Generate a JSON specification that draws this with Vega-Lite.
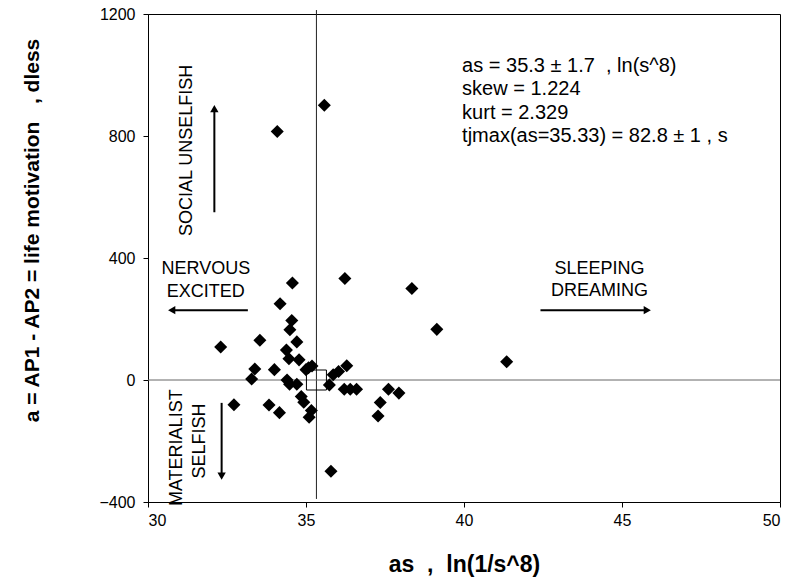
{
  "$schema": "https://vega.github.io/schema/vega-lite/v6.json",
  "width": 632,
  "height": 488,
  "autosize": {"type": "none"},
  "padding": {"left": 148, "top": 14, "right": 18, "bottom": 81},
  "config": {
    "font": "Liberation Sans",
    "view": {"stroke": "#000000", "strokeWidth": 1},
    "axis": {"grid": false, "domainColor": "#000000", "tickColor": "#000000", "labelColor": "#000000", "titleColor": "#000000", "labelFont": "Liberation Sans", "titleFont": "Liberation Sans", "labelFontSize": 16, "titleFontSize": 21, "titleFontWeight": "bold", "tickSize": 5, "domainWidth": 1, "format": "d"}
  },
  "datasets": {
    "pts": [
      {"as": 35.58, "a": 901}, {"as": 34.09, "a": 815}, {"as": 36.23, "a": 333}, {"as": 34.57, "a": 318},
      {"as": 38.35, "a": 300}, {"as": 34.18, "a": 250}, {"as": 39.14, "a": 166}, {"as": 34.55, "a": 195},
      {"as": 34.49, "a": 165}, {"as": 32.30, "a": 108}, {"as": 33.54, "a": 130}, {"as": 34.71, "a": 125},
      {"as": 41.35, "a": 60}, {"as": 34.38, "a": 98}, {"as": 34.46, "a": 70}, {"as": 34.78, "a": 66},
      {"as": 33.38, "a": 36}, {"as": 34.0, "a": 34}, {"as": 35.0, "a": 34}, {"as": 35.19, "a": 46},
      {"as": 35.08, "a": 40}, {"as": 36.29, "a": 47}, {"as": 36.03, "a": 28}, {"as": 35.86, "a": 17},
      {"as": 33.28, "a": 3}, {"as": 34.40, "a": 0}, {"as": 34.48, "a": -14}, {"as": 34.71, "a": -14},
      {"as": 35.74, "a": -16}, {"as": 36.21, "a": -30}, {"as": 36.40, "a": -30}, {"as": 36.60, "a": -30},
      {"as": 37.61, "a": -30}, {"as": 37.94, "a": -43}, {"as": 34.85, "a": -54}, {"as": 34.93, "a": -73},
      {"as": 37.35, "a": -74}, {"as": 32.72, "a": -81}, {"as": 33.83, "a": -82}, {"as": 34.16, "a": -107},
      {"as": 35.17, "a": -100}, {"as": 35.10, "a": -122}, {"as": 37.28, "a": -118}, {"as": 35.79, "a": -299}
    ],
    "refs": [
      {"x": 35.33, "y": 1213, "x2": 35.33, "y2": -390, "c": "v"},
      {"x": 30, "y": 0, "x2": 50, "y2": 0, "c": "h"}
    ],
    "arrows": [
      {"x": 32.10, "y": 550, "x2": 32.10, "y2": 890},
      {"x": 32.33, "y": -75, "x2": 32.33, "y2": -315},
      {"x": 33.16, "y": 229, "x2": 30.75, "y2": 229},
      {"x": 42.42, "y": 229, "x2": 45.80, "y2": 229}
    ],
    "heads": [
      {"x": 32.10, "y": 890, "dir": "up"},
      {"x": 32.33, "y": -315, "dir": "down"},
      {"x": 30.75, "y": 229, "dir": "left"},
      {"x": 45.80, "y": 229, "dir": "right"}
    ],
    "hlabels": [
      {"x": 31.83, "y": 364, "t": "NERVOUS"},
      {"x": 31.83, "y": 287, "t": "EXCITED"},
      {"x": 44.29, "y": 364, "t": "SLEEPING"},
      {"x": 44.29, "y": 293, "t": "DREAMING"}
    ],
    "vlabels": [
      {"x": 31.24, "y": 753, "t": "SOCIAL UNSELFISH"},
      {"x": 30.93, "y": -222, "t": "MATERIALIST"},
      {"x": 31.66, "y": -200, "t": "SELFISH"}
    ],
    "stats": [
      {"x": 39.94, "y": 1031, "t": "as = 35.3 ± 1.7 \u00a0, ln(s^8)"},
      {"x": 39.94, "y": 954, "t": "skew = 1.224"},
      {"x": 39.94, "y": 877, "t": "kurt = 2.329"},
      {"x": 39.94, "y": 800, "t": "tjmax(as=35.33) = 82.8 ± 1 , s"}
    ],
    "center": [{"as": 35.33, "a": 0}]
  },
  "layer": [
    {
      "data": {"name": "refs"},
      "mark": {"type": "rule", "strokeWidth": 1},
      "encoding": {
        "x": {"field": "x", "type": "quantitative", "scale": {"domain": [30, 50]},
              "axis": {"title": "as \u00a0, \u00a0ln(1/s^8)", "values": [30, 35, 40, 45, 50], "labelPadding": 5, "titleY": 51, "titleFontSize": 23}},
        "y": {"field": "y", "type": "quantitative", "scale": {"domain": [-400, 1200]},
              "axis": {"title": "a = AP1 - AP2 = life motivation \u00a0\u00a0, dless", "values": [-400, 0, 400, 800, 1200], "labelPadding": 8, "titleX": -116, "titleY": 216, "titleAngle": 270, "titleBaseline": "middle", "titleAlign": "center"}},
        "x2": {"field": "x2"},
        "y2": {"field": "y2"},
        "color": {"field": "c", "type": "nominal", "legend": null, "scale": {"domain": ["v", "h"], "range": ["#222222", "#666666"]}}
      }
    },
    {
      "data": {"name": "arrows"},
      "mark": {"type": "rule", "color": "#000000", "strokeWidth": 2},
      "encoding": {
        "x": {"field": "x", "type": "quantitative"},
        "y": {"field": "y", "type": "quantitative"},
        "x2": {"field": "x2"},
        "y2": {"field": "y2"}
      }
    },
    {
      "data": {"name": "heads"},
      "mark": {"type": "point", "filled": true, "color": "#000000", "opacity": 1, "size": 70},
      "encoding": {
        "x": {"field": "x", "type": "quantitative"},
        "y": {"field": "y", "type": "quantitative"},
        "shape": {"field": "dir", "type": "nominal", "legend": null,
                  "scale": {"domain": ["up", "down", "left", "right"], "range": ["triangle-up", "triangle-down", "triangle-left", "triangle-right"]}}
      }
    },
    {
      "data": {"name": "pts"},
      "mark": {"type": "point", "shape": "diamond", "filled": true, "color": "#000000", "opacity": 1, "size": 170},
      "encoding": {
        "x": {"field": "as", "type": "quantitative"},
        "y": {"field": "a", "type": "quantitative"}
      }
    },
    {
      "data": {"name": "center"},
      "mark": {"type": "point", "shape": "square", "filled": false, "stroke": "#000000", "strokeWidth": 1, "opacity": 1, "size": 400},
      "encoding": {
        "x": {"field": "as", "type": "quantitative"},
        "y": {"field": "a", "type": "quantitative"}
      }
    },
    {
      "data": {"name": "hlabels"},
      "mark": {"type": "text", "font": "Liberation Sans", "fontSize": 18, "align": "center", "baseline": "middle", "color": "#000000"},
      "encoding": {
        "x": {"field": "x", "type": "quantitative"},
        "y": {"field": "y", "type": "quantitative"},
        "text": {"field": "t"}
      }
    },
    {
      "data": {"name": "vlabels"},
      "mark": {"type": "text", "font": "Liberation Sans", "fontSize": 18, "align": "center", "baseline": "middle", "angle": 270, "color": "#000000"},
      "encoding": {
        "x": {"field": "x", "type": "quantitative"},
        "y": {"field": "y", "type": "quantitative"},
        "text": {"field": "t"}
      }
    },
    {
      "data": {"name": "stats"},
      "mark": {"type": "text", "font": "Liberation Sans", "fontSize": 20, "align": "left", "baseline": "middle", "color": "#000000"},
      "encoding": {
        "x": {"field": "x", "type": "quantitative"},
        "y": {"field": "y", "type": "quantitative"},
        "text": {"field": "t"}
      }
    }
  ]
}
